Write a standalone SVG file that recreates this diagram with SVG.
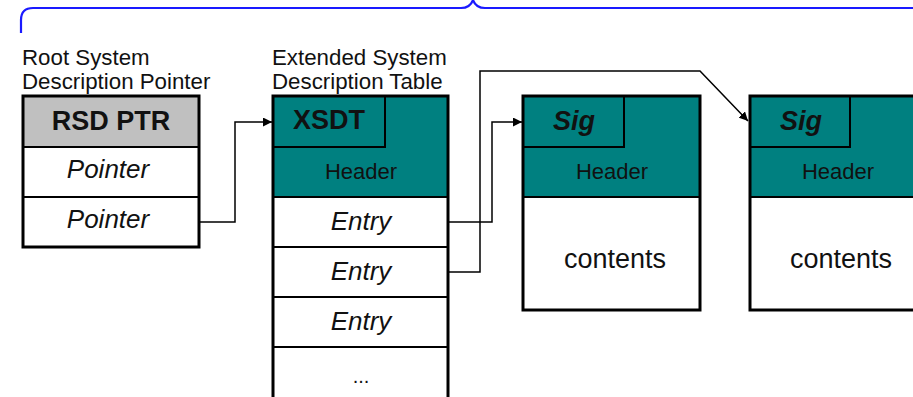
<svg xmlns="http://www.w3.org/2000/svg" width="913" height="397" viewBox="0 0 913 397">
<defs>
<style>
.t{font-family:"Liberation Sans",Arial,sans-serif;fill:#111}
.cap{font-size:22.3px}
.box{fill:none;stroke:#000;stroke-width:3}
.ln{stroke:#000;stroke-width:2}
.teal{fill:#008080}
.con{fill:none;stroke:#000;stroke-width:1.5}
.big{font-size:26px}
.bold{font-size:27px;font-weight:bold}
.hdr{font-size:22px;text-anchor:middle}
</style>
<marker id="ah" viewBox="0 0 10 10" refX="10" refY="5" markerWidth="9" markerHeight="9" markerUnits="userSpaceOnUse" orient="auto">
<path d="M0,0 L10,5 L0,10 z" fill="#000"/>
</marker>
</defs>
<rect width="913" height="397" fill="#fff"/>
<path d="M21,33 V20 Q21,8 33,8 H461 Q470,8 473,0 Q476,8 485,8 H913" fill="none" stroke="#1a1aff" stroke-width="2.2"/>

<g id="rsdptr">
<text class="t cap" x="22" y="65">Root System</text>
<text class="t cap" x="22" y="89">Description Pointer</text>
<rect x="23" y="96" width="176" height="51" fill="#c0c0c0"/>
<rect x="23" y="147" width="176" height="100" fill="#fff"/>
<line class="ln" x1="23" y1="147" x2="199" y2="147"/>
<line class="ln" x1="23" y1="197" x2="199" y2="197"/>
<rect class="box" x="23" y="96" width="176" height="151"/>
<text class="t bold" x="111" y="130" text-anchor="middle">RSD PTR</text>
<text class="t big" x="108" y="178" font-style="italic" text-anchor="middle">Pointer</text>
<text class="t big" x="108" y="228" font-style="italic" text-anchor="middle">Pointer</text>
</g>

<g id="xsdt">
<text class="t cap" x="272" y="65">Extended System</text>
<text class="t cap" x="272" y="89">Description Table</text>
<rect class="teal" x="273" y="96" width="175" height="101"/>
<rect x="273" y="197" width="175" height="205" fill="#fff"/>
<rect class="ln" x="273" y="96" width="112" height="51" fill="none"/>
<line class="ln" x1="273" y1="197" x2="448" y2="197"/>
<line class="ln" x1="273" y1="247" x2="448" y2="247"/>
<line class="ln" x1="273" y1="297" x2="448" y2="297"/>
<line class="ln" x1="273" y1="347" x2="448" y2="347"/>
<rect class="box" x="273" y="96" width="175" height="306"/>
<text class="t bold" x="329" y="129" text-anchor="middle">XSDT</text>
<text class="t hdr" x="361" y="179">Header</text>
<text class="t big" x="361" y="230" font-style="italic" text-anchor="middle">Entry</text>
<text class="t big" x="361" y="280" font-style="italic" text-anchor="middle">Entry</text>
<text class="t big" x="361" y="330" font-style="italic" text-anchor="middle">Entry</text>
<text class="t" x="361" y="383" font-size="20" text-anchor="middle" fill="#555">...</text>
</g>

<g id="table1">
<rect class="teal" x="523" y="96" width="177" height="101"/>
<rect x="523" y="197" width="177" height="113" fill="#fff"/>
<rect class="ln" x="523" y="96" width="101" height="51" fill="none"/>
<line class="ln" x1="523" y1="197" x2="700" y2="197"/>
<rect class="box" x="523" y="96" width="177" height="214"/>
<text class="t bold" x="574" y="130" font-style="italic" text-anchor="middle">Sig</text>
<text class="t hdr" x="612" y="179">Header</text>
<text class="t" x="615" y="268" font-size="27" text-anchor="middle">contents</text>
</g>

<g id="table2">
<rect class="teal" x="750" y="96" width="177" height="101"/>
<rect x="750" y="197" width="177" height="113" fill="#fff"/>
<rect class="ln" x="750" y="96" width="100" height="51" fill="none"/>
<line class="ln" x1="750" y1="197" x2="927" y2="197"/>
<rect class="box" x="750" y="96" width="177" height="214"/>
<text class="t bold" x="801" y="130" font-style="italic" text-anchor="middle">Sig</text>
<text class="t hdr" x="838" y="179">Header</text>
<text class="t" x="841" y="268" font-size="27" text-anchor="middle">contents</text>
</g>

<g id="connectors">
<path class="con" d="M199,222 H235 V122 H272" marker-end="url(#ah)"/>
<path class="con" d="M448,222 H492 V122 H522" marker-end="url(#ah)"/>
<path class="con" d="M448,272 H480 V71 H700 L748,121" marker-end="url(#ah)"/>
</g>
</svg>
